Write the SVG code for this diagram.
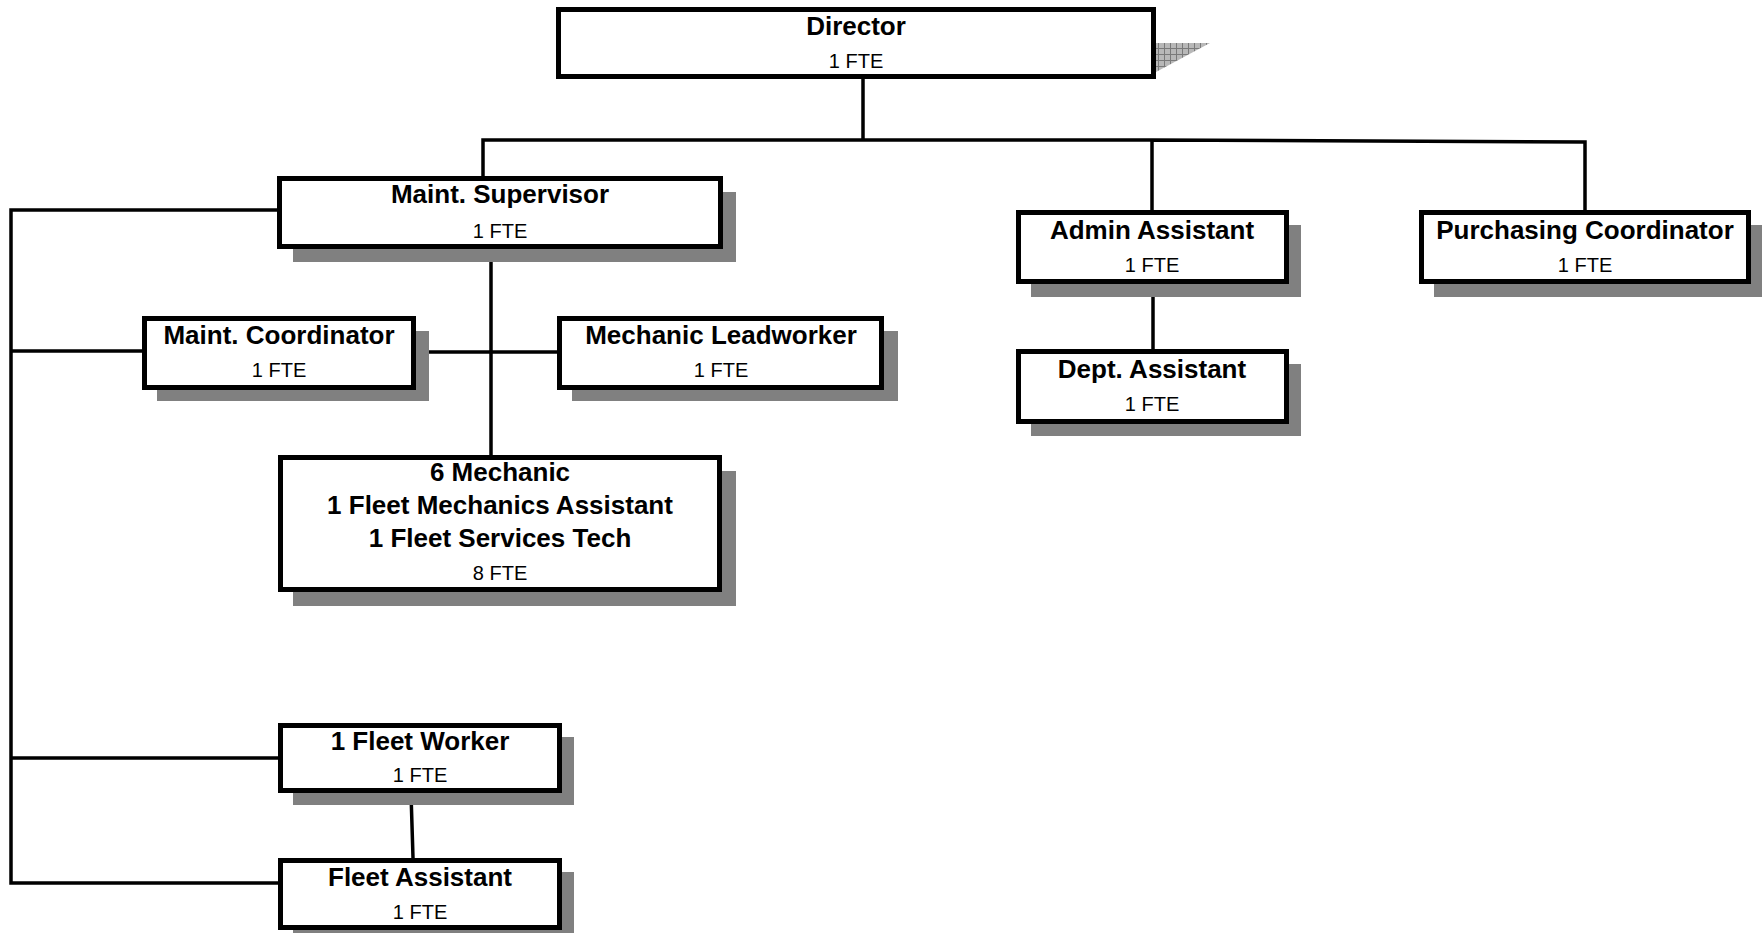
<svg xmlns="http://www.w3.org/2000/svg" width="1762" height="933" viewBox="0 0 1762 933">
<style>
.box{fill:#fff;stroke:#000;stroke-width:5}
.sh{fill:#808080}
.t{font-family:"Liberation Sans",Arial,sans-serif;font-weight:bold;font-size:26px;text-anchor:middle;fill:#000}
.f{font-family:"Liberation Sans",Arial,sans-serif;font-size:20px;text-anchor:middle;fill:#000}
.c{fill:none;stroke:#000;stroke-width:3.5}
</style>
<defs>
<pattern id="grid" width="6" height="6" patternUnits="userSpaceOnUse">
<rect width="6" height="6" fill="#b8b8b8"/>
<path d="M0 0.5H6M0.5 0V6" stroke="#7a7a7a" stroke-width="1"/>
</pattern>
</defs>
<rect width="1762" height="933" fill="#fff"/>
<g id="connectors">
<path class="c" d="M863 79V140M483 176V140H1152L1585 142V211M1152 140V211"/>
<path class="c" d="M279 210H11V883H279M11 351H142M11 758H279"/>
<path class="c" d="M416 352H557M491 249V455"/>
<path class="c" d="M1153 284V349"/>
<path class="c" d="M411 793L413 858"/>
</g>
<g id="director">
<polygon points="1156,43 1210,43 1156,72" fill="url(#grid)"/>
<rect class="box" x="558.5" y="9.5" width="595" height="67"/>
<text class="t" x="856" y="35">Director</text>
<text class="f" x="856" y="68">1 FTE</text>
</g>
<g id="maint-supervisor">
<rect class="sh" x="293" y="192" width="443" height="70"/>
<rect class="box" x="279.5" y="178.5" width="441" height="68"/>
<text class="t" x="500" y="203">Maint. Supervisor</text>
<text class="f" x="500" y="238">1 FTE</text>
</g>
<g id="maint-coordinator">
<rect class="sh" x="157" y="331" width="272" height="70"/>
<rect class="box" x="144.5" y="318.5" width="269" height="69"/>
<text class="t" x="279" y="344">Maint. Coordinator</text>
<text class="f" x="279" y="377">1 FTE</text>
</g>
<g id="mechanic-leadworker">
<rect class="sh" x="572" y="331" width="326" height="70"/>
<rect class="box" x="559.5" y="318.5" width="322" height="69"/>
<text class="t" x="721" y="344">Mechanic Leadworker</text>
<text class="f" x="721" y="377">1 FTE</text>
</g>
<g id="mechanics">
<rect class="sh" x="293" y="471" width="443" height="135"/>
<rect class="box" x="280.5" y="457.5" width="439" height="132"/>
<text class="t" x="500" y="481">6 Mechanic</text>
<text class="t" x="500" y="514">1 Fleet Mechanics Assistant</text>
<text class="t" x="500" y="547">1 Fleet Services Tech</text>
<text class="f" x="500" y="580">8 FTE</text>
</g>
<g id="fleet-worker">
<rect class="sh" x="293" y="737" width="281" height="68"/>
<rect class="box" x="280.5" y="725.5" width="279" height="65"/>
<text class="t" x="420" y="750">1 Fleet Worker</text>
<text class="f" x="420" y="782">1 FTE</text>
</g>
<g id="fleet-assistant">
<rect class="sh" x="293" y="872" width="281" height="70"/>
<rect class="box" x="280.5" y="860.5" width="279" height="67"/>
<text class="t" x="420" y="886">Fleet Assistant</text>
<text class="f" x="420" y="919">1 FTE</text>
</g>
<g id="admin-assistant">
<rect class="sh" x="1031" y="225" width="270" height="72"/>
<rect class="box" x="1018.5" y="212.5" width="268" height="69"/>
<text class="t" x="1152" y="239">Admin Assistant</text>
<text class="f" x="1152" y="272">1 FTE</text>
</g>
<g id="dept-assistant">
<rect class="sh" x="1031" y="364" width="270" height="72"/>
<rect class="box" x="1018.5" y="351.5" width="268" height="70"/>
<text class="t" x="1152" y="378">Dept. Assistant</text>
<text class="f" x="1152" y="411">1 FTE</text>
</g>
<g id="purchasing-coordinator">
<rect class="sh" x="1434" y="225" width="328" height="72"/>
<rect class="box" x="1421.5" y="212.5" width="327" height="69"/>
<text class="t" x="1585" y="239">Purchasing Coordinator</text>
<text class="f" x="1585" y="272">1 FTE</text>
</g>
</svg>
